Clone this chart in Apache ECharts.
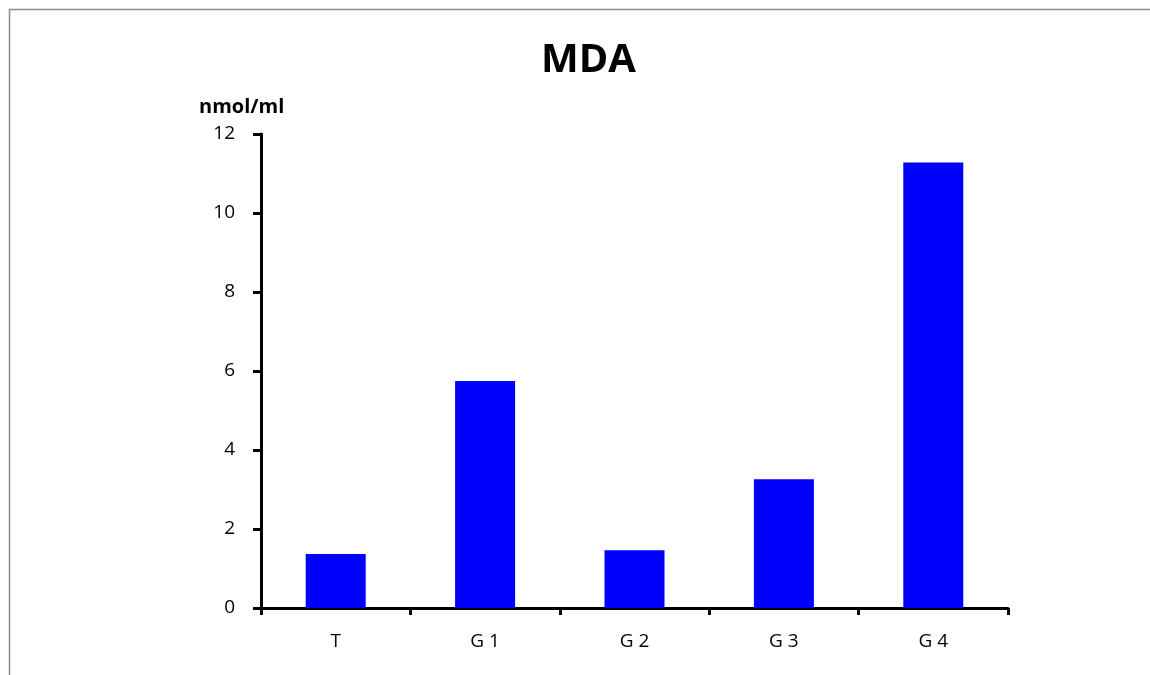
<!DOCTYPE html>
<html>
<head>
<meta charset="utf-8">
<script src="https://cdn.jsdelivr.net/npm/echarts@6/dist/echarts.min.js"></script>
<style>html,body{margin:0;padding:0;background:#fff}#c{width:1150px;height:675px}</style>
</head>
<body>
<div id="c"></div>
<script>
var categories = ['T', 'G 1', 'G 2', 'G 3', 'G 4'];
var mdaValues = [1.37, 5.75, 1.46, 3.26, 11.28];
var yTicks = [0, 2, 4, 6, 8, 10, 12];

var chart = echarts.init(document.getElementById('c'));
var font = '"Open Sans", "Liberation Sans", sans-serif';
chart.setOption({
  animation: false,
  backgroundColor: '#fff',
  title: [
    { text: 'MDA', left: 536, top: 36,
      textStyle: { fontFamily: font, fontSize: 40, fontWeight: 'bold', color: '#000' } },
    { text: 'nmol/ml', left: 194, top: 92,
      textStyle: { fontFamily: font, fontSize: 20, fontWeight: 'bold', color: '#000' } }
  ],
  graphic: [
    { type: 'rect', shape: { x: 9.5, y: 9.5, width: 1300, height: 800 },
      style: { fill: null, stroke: '#8c8c8c', lineWidth: 1.5 }, silent: true }
  ],
  grid: { left: 261, right: 142, top: 134, bottom: 67, containLabel: false },
  xAxis: {
    type: 'category', data: categories,
    axisLine: { lineStyle: { color: '#000', width: 3 } },
    axisTick: { show: true, length: 7, lineStyle: { color: '#000', width: 3 }, alignWithLabel: false },
    axisLabel: { fontFamily: font, fontSize: 19, color: '#000', margin: 24 },
    splitLine: { show: false }
  },
  yAxis: {
    type: 'value', min: yTicks[0], max: yTicks[yTicks.length - 1], interval: 2,
    axisLine: { show: true, lineStyle: { color: '#000', width: 3 } },
    axisTick: { show: true, length: 8, lineStyle: { color: '#000', width: 3 } },
    axisLabel: { fontFamily: font, fontSize: 19, color: '#000', margin: 26 },
    splitLine: { show: false }
  },
  series: [{
    type: 'bar', data: mdaValues, barWidth: 60,
    itemStyle: { color: '#0000ff' }
  }]
});
</script>
</body>
</html>
